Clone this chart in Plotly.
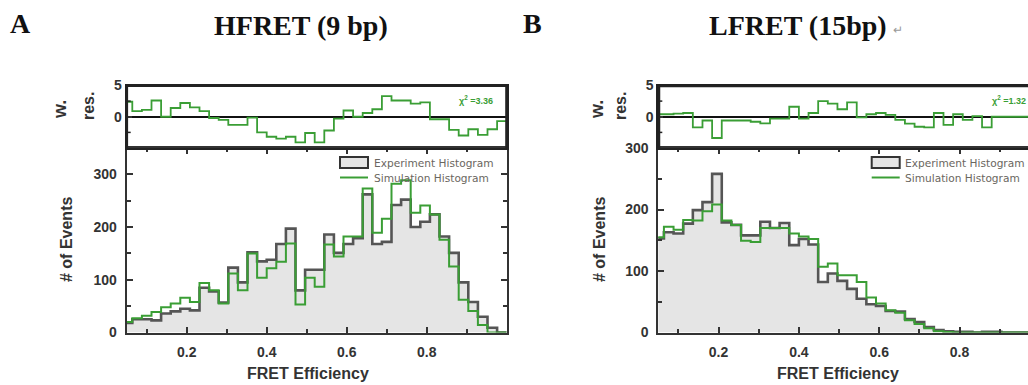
import numpy as np
import plotly.graph_objects as go

# ---------------- data ----------------
# histogram bins (bin edges, FRET efficiency)
bin_edges = np.round(np.linspace(0.04, 1.0, 41), 3)

# Panel A : HFRET (9 bp)
a_experiment = [18, 25, 25, 23, 36, 40, 45, 42, 85, 78,
                57, 123, 95, 152, 135, 138, 168, 197, 80, 119,
                119, 186, 151, 168, 179, 262, 168, 172, 242, 252,
                200, 210, 224, 182, 151, 95, 58, 30, 9, 0]
a_simulation = [20, 27, 32, 39, 48, 55, 66, 58, 94, 80,
                55, 112, 80, 150, 104, 122, 134, 169, 53, 104,
                87, 167, 144, 182, 182, 273, 189, 216, 282, 289,
                227, 241, 224, 176, 125, 62, 41, 14, 0, 0]
a_residual = [2.4, 0.9, 1.1, 2.6, 0.0, 1.4, 2.2, 1.5, 0.9, -0.2,
              -0.5, -1.3, -1.3, -0.15, -2.5, -3.2, -3.5, -3.2, -4.1, -2.6,
              -4.1, -2.2, -0.3, 1.0, 0.0, 0.6, 1.2, 3.3, 2.6, 2.6,
              2.1, 2.3, -0.4, -0.4, -2.1, -3.0, -2.0, -2.9, -2.0, -0.7]
a_chi2 = "3.36"

# Panel B : LFRET (15bp)
b_experiment = [153, 163, 161, 177, 199, 212, 258, 179, 175, 158,
                158, 180, 170, 178, 142, 152, 143, 82, 96, 84,
                71, 55, 46, 43, 35, 34, 22, 17, 9, 4,
                2, 1, 1, 0, 1, 1, 0, 0, 0, 0]
b_simulation = [155, 172, 167, 183, 182, 197, 208, 182, 175, 149,
                147, 170, 170, 170, 161, 156, 152, 107, 112, 93,
                93, 82, 57, 47, 36, 32, 20, 14, 7, 2,
                1, 0, 0, 0, 0, 0, 0, 0, 0, 0]
b_residual = [0.4, 0.4, 0.5, 0.6, -1.7, -0.6, -3.4, -0.6, -0.6, -0.6,
              -0.8, -1.05, -0.3, -0.3, 1.6, -0.3, 0.6, 2.5, 2.1, 1.2,
              2.3, -0.1, 0.4, 0.6, 0.3, -0.5, -1.1, -1.6, -1.7, 0.6,
              -1.3, 0.4, -0.5, 0.1, -1.7, 0, 0, 0, 0, 0]
b_chi2 = "1.32"

x_tick_vals = [0.2, 0.4, 0.6, 0.8]
x_tick_text = ["0.2", "0.4", "0.6", "0.8"]
y_tick_vals = [0, 100, 200, 300]
y_tick_text = ["0", "100", "200", "300"]
res_tick_vals = [0, 5]
res_tick_text = ["0", "5"]

# ---------------- styling / layout helpers ----------------
W, H = 1028, 385
def fx(p):
    return p / W
def fy(p):
    return 1 - p / H

GREEN = "#3a9e35"
GLINE = "#555555"
FILL = "#e5e5e5"
AX = "#333333"
SANS = "Liberation Sans"
SERIF = "Liberation Serif"

def step(vals):
    return list(vals) + [vals[-1]]

fig = go.Figure()

def add_panel(exp, sim, res, xa, ya, xr, yr):
    fig.add_trace(go.Scatter(x=bin_edges, y=step(exp), mode="lines",
                             line=dict(shape="hv", color=GLINE, width=2.6),
                             fill="tozeroy", fillcolor=FILL,
                             xaxis=xa, yaxis=ya, showlegend=False,
                             name="Experiment Histogram"))
    fig.add_trace(go.Scatter(x=bin_edges, y=step(sim), mode="lines",
                             line=dict(shape="hv", color=GREEN, width=2),
                             xaxis=xa, yaxis=ya, showlegend=False,
                             name="Simulation Histogram"))
    fig.add_trace(go.Scatter(x=bin_edges, y=step(res), mode="lines",
                             line=dict(shape="hv", color=GREEN, width=1.8),
                             xaxis=xr, yaxis=yr, showlegend=False,
                             name="weighted residual"))

add_panel(a_experiment, a_simulation, a_residual, "x", "y", "x2", "y2")
add_panel(b_experiment, b_simulation, b_residual, "x3", "y3", "x4", "y4")

tickfont = dict(family=SANS, size=14, color=AX, weight="bold")

def hist_x(domain, rng, anchor):
    return dict(domain=domain, range=rng, anchor=anchor,
                tickvals=x_tick_vals, ticktext=x_tick_text,
                ticks="inside", ticklen=6, tickwidth=1.5, tickcolor=AX,
                showline=True, linecolor=AX, linewidth=2, mirror="allticks",
                showgrid=False, zeroline=False, tickfont=tickfont,
                ticklabelstandoff=6,
                minor=dict(tickvals=[0.1, 0.3, 0.5, 0.7, 0.9], ticks="inside",
                           ticklen=4, tickwidth=1.5, tickcolor=AX))

def hist_y(anchor, rng, mirror):
    return dict(domain=[fy(332.5), fy(148)], range=rng, anchor=anchor,
                tickvals=y_tick_vals, ticktext=y_tick_text,
                ticks="inside", ticklen=6, tickwidth=1.5, tickcolor=AX,
                showline=True, linecolor=AX, linewidth=2, mirror=mirror,
                showgrid=False, zeroline=False, tickfont=tickfont,
                ticklabelstandoff=5,
                minor=dict(tickvals=[50, 150, 250], ticks="inside",
                           ticklen=4, tickwidth=1.5, tickcolor=AX))

def res_x(domain, rng, anchor):
    return dict(domain=domain, range=rng, anchor=anchor, showline=True,
                linecolor="#222222", linewidth=2, mirror=True,
                showticklabels=False, showgrid=False, zeroline=False)

def res_y(anchor, mirror):
    return dict(domain=[fy(148), fy(85.5)], range=[-5, 5], anchor=anchor,
                tickvals=res_tick_vals, ticktext=res_tick_text,
                ticks="inside", ticklen=5, tickwidth=1.5, tickcolor=AX,
                showline=True, linecolor="#222222", linewidth=2, mirror=mirror,
                showgrid=False, zeroline=True, zerolinecolor="#111111",
                zerolinewidth=1.5, tickfont=tickfont)

dom_a = [fx(126.7), fx(506.7)]
dom_b = [fx(658.3), 1.0]
rng_a = [0.05, 1.0]
rng_b = [0.05, 0.9704]

annotations = []
def ann(text, x, y, size, family=SANS, color=AX, weight="bold", angle=0,
        xanchor="center", yanchor="middle"):
    annotations.append(dict(text=text, x=fx(x), y=fy(y), xref="paper", yref="paper",
                            showarrow=False, textangle=angle, xanchor=xanchor,
                            yanchor=yanchor,
                            font=dict(family=family, size=size, color=color,
                                      weight=weight)))

# panel headings
ann("A", 8, 23, 28, family=SERIF, color="#111", xanchor="left")
ann("HFRET (9 bp)", 301, 25, 28, family=SERIF, color="#111")
ann("B", 521, 23, 28, family=SERIF, color="#111", xanchor="left")
ann("LFRET (15bp)", 798, 25, 28, family=SERIF, color="#111")
ann("↵", 898, 30, 12, color="#999999", weight="normal")

# axis titles
for cx_w, cx_r, cx_e, cx_f in [(60, 89, 66, 308), (597, 621, 599, 838)]:
    ann("w.", cx_w, 110, 18, angle=-90)
    ann("res.", cx_r, 106, 16, angle=-90)
    ann("# of Events", cx_e, 240, 16, angle=-90)
    ann("FRET Efficiency", cx_f, 373, 16)

# chi-square labels
ann("χ<sup>2</sup> =" + a_chi2, 476, 100, 9, color=GREEN)
ann("χ<sup>2</sup> =" + b_chi2, 990, 100, 9, color=GREEN, xanchor="left")

shapes = []
def pline(x0, y0, x1, y1, color="#222222", width=2.2):
    shapes.append(dict(type="line", xref="paper", yref="paper",
                       x0=fx(x0), y0=fy(y0), x1=fx(x1), y1=fy(y1),
                       line=dict(color=color, width=width)))
# residual panel frames
pline(126.7, 86, 506.7, 86)
pline(127, 85.5, 127, 148)
pline(506.3, 85.5, 506.3, 148)
# panel B: frame (right side lies beyond the page edge)
shapes.append(dict(type="line", xref="x4 domain", yref="y4 domain",
                   x0=0, x1=1, y0=1, y1=1,
                   line=dict(color="#222222", width=2.5)))
shapes.append(dict(type="line", xref="x4 domain", yref="y4 domain",
                   x0=0, x1=0, y0=0, y1=1,
                   line=dict(color="#222222", width=2.5)))
pline(659, 86, 1028, 86, width=2.5)
pline(659, 85.5, 659, 148, width=2.5)
for x0 in (126.7, 658.3):
    for yv in (101.1, 132.4):
        pline(x0, yv, x0 + 4, yv, width=1.5)

# legends (inside each histogram)
for sx, tx in [(340, 372), (871.7, 903.3)]:
    shapes.append(dict(type="rect", xref="paper", yref="paper",
                       x0=fx(sx), x1=fx(sx + 28), y0=fy(168), y1=fy(157),
                       fillcolor=FILL, line=dict(color="#333333", width=2)))
    shapes.append(dict(type="line", xref="paper", yref="paper",
                       x0=fx(sx), x1=fx(sx + 28), y0=fy(177.5), y1=fy(177.5),
                       line=dict(color=GREEN, width=2)))
    ann("Experiment Histogram", tx, 162.5, 10.6, family="DejaVu Sans",
        color="#6a6660", weight="normal", xanchor="left")
    ann("Simulation Histogram", tx, 178, 10.6, family="DejaVu Sans",
        color="#6a6660", weight="normal", xanchor="left")

fig.update_layout(
    width=W, height=H,
    margin=dict(l=0, r=0, t=0, b=0, autoexpand=False),
    paper_bgcolor="white", plot_bgcolor="white",
    showlegend=False,
    xaxis=hist_x(dom_a, rng_a, "y"),
    yaxis=hist_y("x", [0, 350], "allticks"),
    xaxis2=res_x(dom_a, rng_a, "y2"),
    yaxis2=res_y("x2", True),
    xaxis3=hist_x(dom_b, rng_b, "y3"),
    yaxis3=hist_y("x3", [0, 300], False),
    xaxis4=res_x(dom_b, rng_b, "y4"),
    yaxis4=res_y("x4", False),
    annotations=annotations,
    shapes=shapes,
)

fig.write_html("out.html")
